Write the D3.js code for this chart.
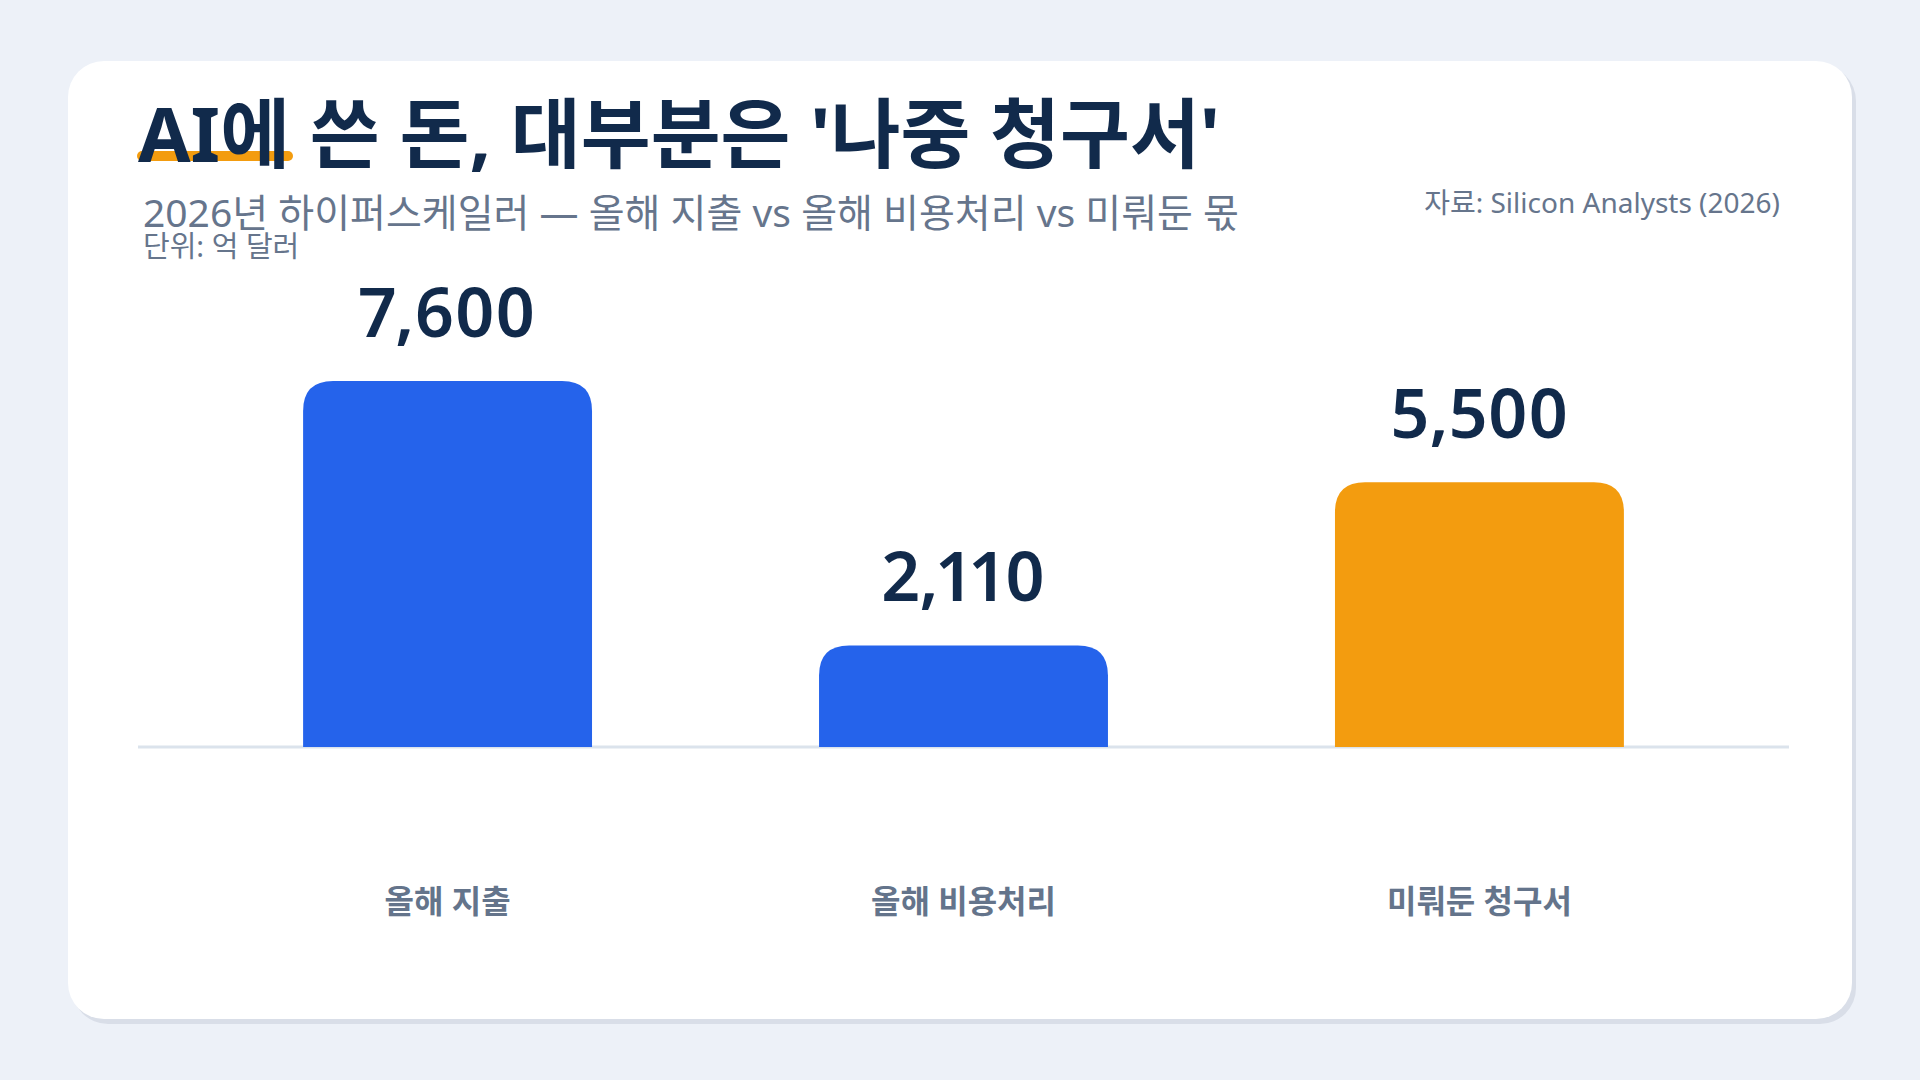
<!DOCTYPE html>
<html>
<head>
<meta charset="utf-8">
<script src="https://cdn.jsdelivr.net/npm/d3@7"></script>
<style>
  html, body { margin: 0; padding: 0; background: #edf1f8; }
  svg { display: block; }
  text { font-family: "Noto Sans", "Noto Sans CJK KR", sans-serif; }
  .val { font-variant-numeric: proportional-nums; font-feature-settings: "pnum" 1; }
</style>
</head>
<body>
<svg id="chart" width="1920" height="1080"></svg>
<script>
const categories = ["올해 지출", "올해 비용처리", "미뤄둔 청구서"];
const values = [7600, 2110, 5500];
const barColors = ["#2563eb", "#2563eb", "#f39c0f"];
const valueLabels = ["7,600", "2,110", "5,500"];
const titleText = "AI에 쓴 돈, 대부분은 '나중 청구서'";
const subtitleText = "2026년 하이퍼스케일러 — 올해 지출 vs 올해 비용처리 vs 미뤄둔 몫";
const unitText = "단위: 억 달러";
const sourceText = "자료: Silicon Analysts (2026)";

const svg = d3.select("#chart");
const W = 1920, H = 1080;
const FONT = "'Noto Sans', 'Noto Sans CJK KR', sans-serif";

svg.append("rect").attr("width", W).attr("height", H).attr("fill", "#edf1f8");

// card shadow + card
svg.append("rect")
  .attr("x", 72).attr("y", 65).attr("width", 1784).attr("height", 959)
  .attr("rx", 36).attr("fill", "#d9dee8");
svg.append("rect")
  .attr("x", 68).attr("y", 61).attr("width", 1784).attr("height", 958)
  .attr("rx", 36).attr("fill", "#ffffff");

// title highlight
svg.append("rect")
  .attr("x", 137).attr("y", 151).attr("width", 156).attr("height", 10)
  .attr("rx", 5).attr("fill", "#f39c0f");

svg.append("text")
  .attr("x", 138).attr("y", 162)
  .attr("font-size", 76).attr("font-weight", 700)
  .attr("fill", "#112a4b")
  .text(titleText);

svg.append("text")
  .attr("x", 143).attr("y", 227)
  .attr("font-size", 39).attr("font-weight", 400)
  .attr("fill", "#66758c")
  .text(subtitleText);

svg.append("text")
  .attr("x", 143).attr("y", 257)
  .attr("font-size", 29).attr("font-weight", 400)
  .attr("fill", "#66758c")
  .text(unitText);

svg.append("text")
  .attr("x", 1780).attr("y", 213)
  .attr("text-anchor", "end")
  .attr("font-size", 28).attr("font-weight", 400)
  .attr("fill", "#66758c")
  .text(sourceText);

// scales
const x = d3.scaleBand()
  .domain(categories)
  .range([138, 1789])
  .paddingInner(0.44)
  .paddingOuter(0.32);

const y = d3.scaleLinear()
  .domain([0, 9000])
  .range([747, 313.6]);

// baseline axis
const axisG = svg.append("g").attr("transform", "translate(0,747)");
axisG.call(d3.axisBottom(x).tickSize(0).tickPadding(166));
axisG.select(".domain").attr("stroke", "#dbe3ec").attr("stroke-width", 3)
  .attr("d", "M138,0H1789");
axisG.selectAll(".tick text")
  .attr("font-family", FONT)
  .attr("font-size", 32).attr("font-weight", 700)
  .attr("fill", "#64748b")
  .attr("dy", 0);

const r = 30;
function barPath(d, i) {
  const x0 = x(categories[i]);
  const w = x.bandwidth();
  const yt = y(d);
  const yb = y(0);
  const rr = Math.min(r, (yb - yt));
  return `M${x0},${yb}V${yt + rr}Q${x0},${yt} ${x0 + rr},${yt}H${x0 + w - rr}Q${x0 + w},${yt} ${x0 + w},${yt + rr}V${yb}Z`;
}

svg.append("g").selectAll("path")
  .data(values)
  .join("path")
  .attr("d", (d, i) => barPath(d, i))
  .attr("fill", (d, i) => barColors[i]);

svg.append("g").selectAll("text")
  .data(values)
  .join("text")
  .attr("class", "val")
  .attr("x", (d, i) => x(categories[i]) + x.bandwidth() / 2)
  .attr("y", d => y(d) - 44)
  .attr("text-anchor", "middle")
  .attr("font-size", 68).attr("font-weight", 600)
  .attr("fill", "#112a4b")
  .text((d, i) => valueLabels[i]);
</script>
</body>
</html>
